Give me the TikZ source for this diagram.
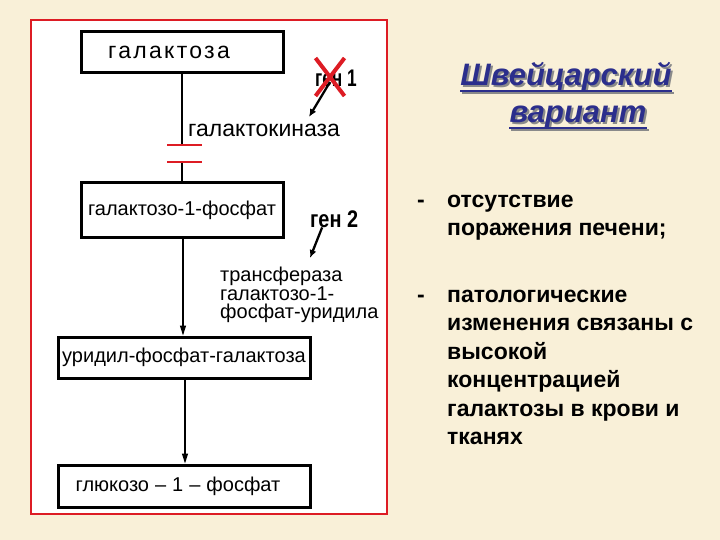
\documentclass[tikz,border=0pt]{standalone}
\usepackage{fontspec}
\setmainfont{Liberation Sans}
\newfontfamily\spacedfont{Liberation Sans}[LetterSpace=10]
\usetikzlibrary{arrows.meta,positioning,shapes.misc}
\definecolor{parchment}{HTML}{F9F0D8}
\definecolor{framered}{HTML}{DD1C24}
\definecolor{titleblue}{HTML}{2B2E8C}
\definecolor{titleshadow}{HTML}{8A8A8A}

\begin{document}
\begin{tikzpicture}[x=1pt, y=-1pt,
        stage/.style={draw, line width=3pt, minimum width=202pt, minimum height=41pt, inner sep=0pt, font=\fontsize{20}{20}\selectfont},
        enzyme/.style={anchor=north west, inner sep=0pt, align=left, font=\fontsize{20}{18.5}\selectfont\setlength{\lineskiplimit}{-10pt}},
        gene/.style={anchor=base west, inner sep=0pt, font=\bfseries\fontsize{24}{24}\selectfont, xscale=0.72, transform shape},
        heading/.style={anchor=base, inner sep=0pt, font=\bfseries\itshape\fontsize{31}{31}\selectfont},
        item/.style={anchor=north west, inner sep=0pt, align=left, font=\bfseries\fontsize{23}{28.5}\selectfont},
        flow/.style={-{Triangle[length=10pt, width=6pt]}, line width=1.3pt},
        genearrow/.style={-{Latex[length=8pt, width=7pt]}, line width=2.3pt}
    ]
        \fill[parchment] (0,0) rectangle (720,540);
        \useasboundingbox (0,0) rectangle (720,540);
        \draw[framered, line width=1.5pt, fill=white] (31,20) rectangle (387,514);

        % pathway
        \node[stage, font=\spacedfont\fontsize{23}{23}\selectfont] (galactose) at (182,52.5) {галактоза\hspace*{26pt}};
        \node[stage, minimum height=54pt] (gal1p) at (182,210) {галактозо-1-фосфат};
        \node[stage, minimum width=252pt] (udpgal) at (184,357.5) {уридил-фосфат-галактоза};
        \node[stage, minimum width=252pt, minimum height=42pt] (glc1p) at (184,486) {глюкозо\hspace{6pt}–\hspace{6pt}1\hspace{6pt}–\hspace{6pt}фосфат\hspace*{12pt}};

        \draw[line width=1.2pt] (galactose.south) -- (182,145) coordinate (bar1);
        \draw[line width=1.2pt] (gal1p.north) -- (182,162) coordinate (bar2);
        \draw[framered, line width=2.5pt] ([xshift=-15pt]bar1) -- ([xshift=20pt]bar1)
            ([xshift=-15pt]bar2) -- ([xshift=20pt]bar2);
        \draw[flow] ([xshift=1pt]gal1p.south) -- ([xshift=1pt]gal1p.south |- udpgal.north);
        \draw[flow] ([xshift=1pt]udpgal.south) -- ([xshift=1pt]udpgal.south |- glc1p.north);

        % enzymes and genes
        \node[enzyme, anchor=base west, font=\fontsize{23}{23}\selectfont] (kinase) at (188,137) {галактокиназа};
        \node[enzyme] (transferase) at (220,267) {\strut трансфераза\\галактозо-1-\\фосфат-уридила};
        \node[gene] (gene1) at (315,87) {ген 1};
        \node[gene, xscale=1.15] (gene2) at (310,227) {ген 2};
        \node[cross out, draw=framered, line width=4pt, minimum width=25pt, minimum height=34pt] (cross) at (330,77) {};
        \coordinate (kin) at (309,117);
        \coordinate (trans) at (310,258);
        \draw[genearrow] ([yshift=-5pt]cross.center) -- (kin);
        \draw[genearrow] ([xshift=-12pt]gene2.south) -- (trans);

        % title
        \foreach \d/\c in {2/titleshadow, 0/titleblue}{
            \node[heading, text=\c] (t1) at (566+\d, 86+\d) {Швейцарский};
            \node[heading, text=\c] (t2) at (578+\d, 123+\d) {вариант};
            \draw[\c, line width=2pt] ([yshift=-5pt]t1.base west) -- ([yshift=-5pt]t1.base east)
                ([yshift=-5pt]t2.base west) -- ([yshift=-5pt]t2.base east);
        }

        % notes
        \node[item] (item1) at (447,187) {\strut отсутствие\\поражения печени;};
        \node[item] (item2) at (447,282) {\strut патологические\\изменения связаны с\\высокой\\концентрацией\\галактозы в крови и\\тканях};
        \node[item, left=22pt of item1.north west, anchor=north east] (dash1) {\strut -};
        \node[item, left=22pt of item2.north west, anchor=north east] (dash2) {\strut -};
    \end{tikzpicture}
\end{document}
